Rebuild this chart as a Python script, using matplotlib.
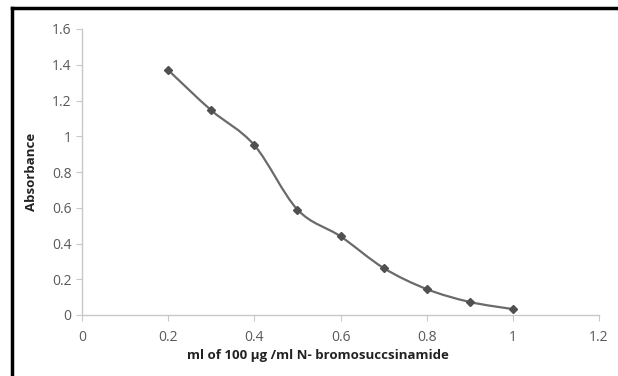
import matplotlib.pyplot as plt
import numpy as np
from matplotlib.path import Path
from matplotlib.patches import PathPatch
from matplotlib.lines import Line2D

volume_ml = [0.2, 0.3, 0.4, 0.5, 0.6, 0.7, 0.8, 0.9, 1.0]
absorbance = [1.37, 1.145, 0.95, 0.59, 0.44, 0.263, 0.145, 0.073, 0.033]
x_ticks = [0, 0.2, 0.4, 0.6, 0.8, 1, 1.2]
y_ticks = [0, 0.2, 0.4, 0.6, 0.8, 1, 1.2, 1.4, 1.6]

plt.rcParams['font.family'] = ['Open Sans', 'DejaVu Sans']

fig = plt.figure(figsize=(6.18, 3.76), dpi=100)
ax = fig.add_axes([82 / 618, 1 - 315 / 376, 517 / 618, 286 / 376])

# smoothed line like excel (catmull-rom to bezier)
x = np.array(volume_ml)
y = np.array(absorbance)
verts = [(x[0], y[0])]
codes = [Path.MOVETO]
for i in range(len(x) - 1):
    p0 = (x[i - 1], y[i - 1]) if i > 0 else (x[i], y[i])
    p3 = (x[i + 2], y[i + 2]) if i + 2 < len(x) else (x[i + 1], y[i + 1])
    c1 = (x[i] + (x[i + 1] - p0[0]) / 6, y[i] + (y[i + 1] - p0[1]) / 6)
    c2 = (x[i + 1] - (p3[0] - x[i]) / 6, y[i + 1] - (p3[1] - y[i]) / 6)
    verts += [c1, c2, (x[i + 1], y[i + 1])]
    codes += [Path.CURVE4] * 3
ax.add_patch(PathPatch(Path(verts, codes), facecolor='none',
                       edgecolor='#6a6a6a', lw=1.6))
ax.plot(volume_ml, absorbance, linestyle='none', marker='D', markersize=4.5,
        color='#505050')

ax.set_xlim(0, 1.2)
ax.set_ylim(0, 1.6)
ax.set_xticks(x_ticks)
ax.set_xticklabels(['0', '0.2', '0.4', '0.6', '0.8', '1', '1.2'])
ax.set_yticks(y_ticks)
ax.set_yticklabels(['0', '0.2', '0.4', '0.6', '0.8', '1', '1.2', '1.4', '1.6'])
for s in ['top', 'right']:
    ax.spines[s].set_visible(False)
for s in ['left', 'bottom']:
    ax.spines[s].set_color('#c8c8c8')
    ax.spines[s].set_linewidth(1.0)
ax.tick_params(colors='#c8c8c8', labelcolor='#595959', labelsize=10,
               length=4, direction='out')
ax.tick_params(axis='x', pad=7)

ax.set_ylabel('Absorbance', fontsize=9.5, fontweight='bold', color='#222222')
ax.yaxis.set_label_coords(-0.086, 0.5)
fig.text(318 / 618, 1 - 356 / 376, 'ml of 100 µg /ml N- bromosuccsinamide',
         ha='center', va='center', fontsize=9.5, fontweight='bold', color='#222222')

# outer border (top and left only visible)
fig.add_artist(Line2D([12 / 618, 12 / 618], [0, 1 - 8 / 376], color='black', lw=2.5))
fig.add_artist(Line2D([12 / 618, 1], [1 - 8 / 376, 1 - 8 / 376], color='black', lw=2.5))

fig.savefig('out.png', dpi=100)
